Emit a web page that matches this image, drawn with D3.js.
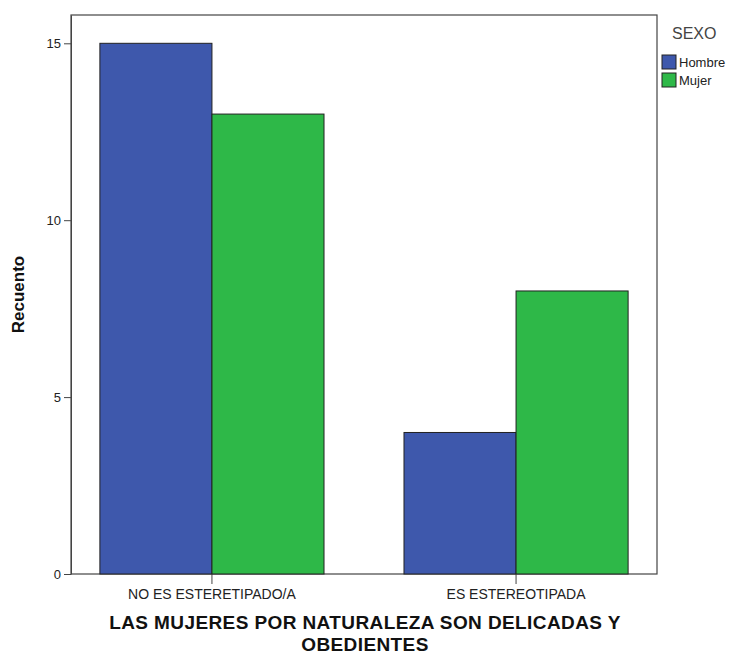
<!DOCTYPE html>
<html>
<head>
<meta charset="utf-8">
<script src="https://cdn.jsdelivr.net/npm/d3@7"></script>
<style>
  body { margin: 0; background: #fff; }
  svg { font-family: "Liberation Sans", Arial, sans-serif; }
</style>
</head>
<body>
<svg id="chart" width="733" height="656"></svg>
<script>
var categories = ["NO ES ESTERETIPADO/A", "ES ESTEREOTIPADA"];
var sexos = ["Hombre", "Mujer"];
var hombre = [15, 4];
var mujer = [13, 8];
var yTicks = [0, 5, 10, 15];

var colores = ["#3e58ac", "#2eb848"];
var valores = [hombre, mujer];

var svg = d3.select("svg#chart");
var margin = {top: 15, right: 76, bottom: 82, left: 71};
var width = +svg.attr("width") - margin.left - margin.right;
var height = +svg.attr("height") - margin.top - margin.bottom;
var g = svg.append("g").attr("transform", "translate(" + margin.left + "," + margin.top + ")");

var x = d3.scaleBand()
    .domain(categories)
    .range([0, width])
    .paddingInner(0.263)
    .paddingOuter(0.095);

var x1 = d3.scaleBand()
    .domain(sexos)
    .range([0, x.bandwidth()]);

var y = d3.scaleLinear()
    .domain([0, 15.8])
    .range([height, 0]);

// marco
g.append("rect")
    .attr("x", 0).attr("y", 0)
    .attr("width", width).attr("height", height)
    .attr("fill", "none")
    .attr("stroke", "#444")
    .attr("stroke-width", 1.2);

var grupos = g.selectAll(".grupo")
    .data(categories)
    .enter().append("g")
    .attr("class", "grupo")
    .attr("transform", function(d) { return "translate(" + x(d) + ",0)"; });

grupos.selectAll("rect")
    .data(function(d, i) {
        return sexos.map(function(s, j) { return {sexo: s, value: valores[j][i], j: j}; });
    })
    .enter().append("rect")
    .attr("x", function(d) { return x1(d.sexo); })
    .attr("y", function(d) { return y(d.value); })
    .attr("width", x1.bandwidth())
    .attr("height", function(d) { return y(0) - y(d.value); })
    .attr("fill", function(d) { return colores[d.j]; })
    .attr("stroke", "#222")
    .attr("stroke-width", 1);

// eje y
var yAxis = g.append("g")
    .call(d3.axisLeft(y).tickValues(yTicks).tickSize(7).tickPadding(3).tickSizeOuter(0));
yAxis.select(".domain").attr("stroke", "#444");
yAxis.selectAll("text")
    .style("font-size", "13px")
    .attr("fill", "#222");
yAxis.selectAll("line").attr("stroke", "#444");

// eje x
var xAxis = g.append("g")
    .attr("transform", "translate(0," + height + ")")
    .call(d3.axisBottom(x).tickSize(10).tickPadding(5).tickSizeOuter(0));
xAxis.select(".domain").remove();
xAxis.selectAll("line").attr("stroke", "#444");
xAxis.selectAll("text")
    .style("font-size", "14px")
    .attr("fill", "#222");

// titulos
svg.append("text")
    .attr("transform", "rotate(-90)")
    .attr("x", -(margin.top + height / 2))
    .attr("y", 24)
    .style("text-anchor", "middle")
    .style("font-size", "17px")
    .style("font-weight", "bold")
    .attr("fill", "#111")
    .text("Recuento");

svg.append("text")
    .attr("x", 365)
    .attr("y", 629)
    .style("text-anchor", "middle")
    .style("font-size", "19px")
    .style("font-weight", "bold")
    .style("letter-spacing", "0.4px")
    .attr("fill", "#111")
    .text("LAS MUJERES POR NATURALEZA SON DELICADAS Y");
svg.append("text")
    .attr("x", 365)
    .attr("y", 651)
    .style("text-anchor", "middle")
    .style("font-size", "19px")
    .style("font-weight", "bold")
    .style("letter-spacing", "0.4px")
    .attr("fill", "#111")
    .text("OBEDIENTES");

// leyenda
svg.append("text")
    .attr("x", 672)
    .attr("y", 39)
    .style("font-size", "16px")
    .attr("fill", "#444")
    .text("SEXO");

var leg = svg.selectAll(".legend")
    .data(sexos)
    .enter().append("g")
    .attr("class", "legend")
    .attr("transform", function(d, i) { return "translate(662," + (55 + i * 18) + ")"; });
leg.append("rect")
    .attr("width", 14).attr("height", 14)
    .attr("fill", function(d, i) { return colores[i]; })
    .attr("stroke", "#222");
leg.append("text")
    .attr("x", 17).attr("y", 12)
    .style("font-size", "13px")
    .attr("fill", "#222")
    .text(function(d) { return d; });
</script>
</body>
</html>
